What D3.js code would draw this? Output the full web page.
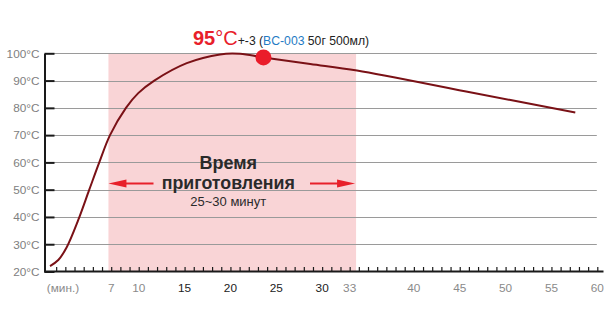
<!DOCTYPE html>
<html><head><meta charset="utf-8">
<script src="https://cdn.jsdelivr.net/npm/d3@7"></script>
<style>
html,body{margin:0;padding:0;background:#fff;}
svg{display:block;font-family:"Liberation Sans",Arial,Helvetica,sans-serif;}
</style></head>
<body>
<svg id="chart" width="614" height="334"></svg>
<script>
// ---- data ----
const curveMinutes = [0.33, 1.23, 2.15, 3.41, 4.61, 5.70, 6.87, 8.61, 9.95, 11.70, 15.24, 18.87, 21.05, 23.6, 28.7, 33.8, 45.7, 57.6];
const curveTemps   = [22.0, 24.2, 28.9, 38.9, 50.0, 60.0, 70.0, 80.0, 85.4, 90.0, 96.4, 99.6, 99.8, 98.5, 96.1, 93.7, 86.0, 78.3];
const peakPoint = [23.6, 98.5];
const cookBand = [6.7, 33.7];
const yTicks = [20, 30, 40, 50, 60, 70, 80, 90, 100];
const xLabelValues = [7, 10, 15, 20, 25, 30, 33, 40, 45, 50, 55, 60];
const xLabelDark = [15, 20, 25, 30];
const unitLabel = "(мин.)";
const headline = ["95", "°C", "+-3 (", "BC-003", " 50г 500мл)"];
const bandTitle = ["Время", "приготовления", "25~30 минут"];

// ---- scales ----
const svg = d3.select("#chart");
const x = d3.scaleLinear().domain([0, 60]).range([47, 597.3]);
const y = d3.scaleLinear().domain([20, 100]).range([271.5, 53.3]);

// band
svg.append("rect")
  .attr("x", x(cookBand[0])).attr("y", y(100))
  .attr("width", x(cookBand[1]) - x(cookBand[0]))
  .attr("height", y(20) - y(100))
  .attr("fill", "#f9d4d6");

// gridlines
svg.append("g").selectAll("line").data(yTicks.filter(d => d > 20)).join("line")
  .attr("x1", 45).attr("x2", x(60) - 0.5)
  .attr("y1", d => Math.round(y(d)) + 0.5).attr("y2", d => Math.round(y(d)) + 0.5)
  .attr("stroke", "#9a9a9a").attr("stroke-width", 1);

// y axis
const yAxis = d3.axisLeft(y).tickValues(yTicks).tickSize(0).tickPadding(5)
  .tickFormat(d => d + "°C");
const gy = svg.append("g").attr("transform", "translate(44.5,0)").call(yAxis);
gy.select(".domain").attr("stroke", "#1a1a1a").attr("stroke-width", 2);
gy.selectAll("text").attr("fill", "#808080").attr("font-size", 11.8)
  .attr("font-family", "Liberation Sans, Arial, sans-serif");
gy.selectAll(".tick").append("line")
  .attr("x1", 0).attr("x2", 10).attr("stroke", "#1a1a1a").attr("stroke-width", 2);

// x axis baseline + minute ticks
const xAxis = d3.axisBottom(x).tickValues(d3.range(1, 61)).tickSize(-4).tickFormat("");
const gx = svg.append("g").attr("transform", "translate(0," + (y(20) - 0.5) + ")").call(xAxis);
gx.select(".domain").remove();
gx.selectAll(".tick line").attr("stroke", "#1a1a1a").attr("stroke-width", 1.2);
svg.append("line").attr("x1", 44).attr("x2", 603.5)
  .attr("y1", y(20)).attr("y2", y(20))
  .attr("stroke", "#1a1a1a").attr("stroke-width", 2);

// x labels
svg.append("g").selectAll("text").data(xLabelValues).join("text")
  .attr("x", d => x(d)).attr("y", 291.5)
  .attr("text-anchor", "middle").attr("font-size", 11.8)
  .attr("fill", d => xLabelDark.includes(d) ? "#222" : "#8a8a8a")
  .text(d => d);
svg.append("text").attr("x", 63).attr("y", 291.5).attr("text-anchor", "middle")
  .attr("font-size", 11.8).attr("fill", "#8a8a8a").text(unitLabel);

// curve
const pts = curveMinutes.map((m, i) => [m, curveTemps[i]]);
const line = d3.line().x(d => x(d[0])).y(d => y(d[1])).curve(d3.curveCatmullRom.alpha(0.5));
svg.append("path").attr("d", line(pts)).attr("fill", "none")
  .attr("stroke", "#7a1116").attr("stroke-width", 2);

// peak dot
svg.append("circle").attr("cx", x(peakPoint[0])).attr("cy", y(peakPoint[1])).attr("r", 8)
  .attr("fill", "#ea1c2a");

// headline
const ht = svg.append("text").attr("x", 193).attr("y", 44.5);
ht.append("tspan").attr("font-size", 20).attr("font-weight", "bold").attr("fill", "#e8202a").text(headline[0]);
ht.append("tspan").attr("font-size", 20).attr("fill", "#e8202a").text(headline[1]);
ht.append("tspan").attr("font-size", 12.2).attr("fill", "#222").text(headline[2]);
ht.append("tspan").attr("font-size", 12.2).attr("fill", "#1f7bc4").text(headline[3]);
ht.append("tspan").attr("font-size", 12.2).attr("fill", "#222").text(headline[4]);

// band title
const cx = (x(cookBand[0]) + x(cookBand[1])) / 2 - 4;
svg.append("text").attr("x", cx).attr("y", 168.5).attr("text-anchor", "middle")
  .attr("font-size", 18).attr("font-weight", "bold").attr("fill", "#2a2a2a").text(bandTitle[0]);
svg.append("text").attr("x", cx).attr("y", 189).attr("text-anchor", "middle")
  .attr("font-size", 17.8).attr("font-weight", "bold").attr("fill", "#2a2a2a").text(bandTitle[1]);
svg.append("text").attr("x", cx).attr("y", 205.5).attr("text-anchor", "middle")
  .attr("font-size", 13).attr("fill", "#2a2a2a").text(bandTitle[2]);

// arrows
const ay = 183.5;
function arrow(x0, x1) {
  const dir = Math.sign(x1 - x0);
  svg.append("line").attr("x1", x0).attr("x2", x1 - dir * 8).attr("y1", ay).attr("y2", ay)
    .attr("stroke", "#e8202a").attr("stroke-width", 2.2);
  svg.append("path")
    .attr("d", `M${x1},${ay} L${x1 - dir * 18},${ay - 4} L${x1 - dir * 18},${ay + 4} Z`)
    .attr("fill", "#e8202a");
}
arrow(153.5, x(cookBand[0]));
arrow(310, x(cookBand[1]) - 1);
</script>
</body></html>
